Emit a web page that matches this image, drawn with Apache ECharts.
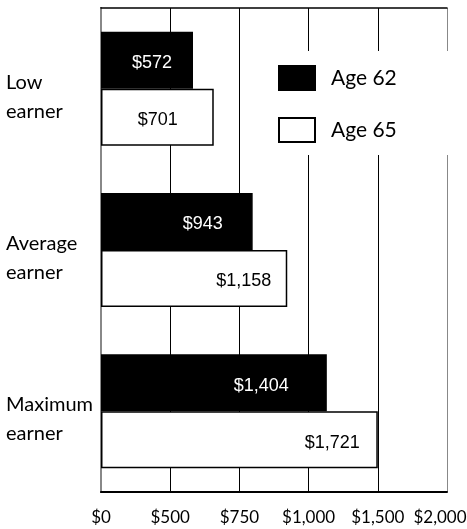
<!DOCTYPE html>
<html>
<head>
<meta charset="utf-8">
<script src="https://cdn.jsdelivr.net/npm/echarts@6/dist/echarts.min.js"></script>
<style>
  html, body { margin: 0; padding: 0; background: #fff; }
  #chart { width: 467px; height: 529px; }
</style>
</head>
<body>
<div id="chart"></div>
<script>
const categories = ['Low earner', 'Average earner', 'Maximum earner'];
const age62 = [572, 943, 1404];
const age65 = [701, 1158, 1721];
const tickLabels = ['$0', '$500', '$750', '$1,000', '$1,500', '$2,000'];

// gridlines are evenly spaced; the 4th one sits where the $1,721 bar ends
const step = 430.25;
const axisMax = step * 5;

// how far each value label sits in from the end of its bar
const inset62 = [21, 30, 38];
const inset65 = [36, 16, 18];

const chart = echarts.init(document.getElementById('chart'));

function money(v) {
  return '$' + v.toLocaleString('en-US');
}

function barData(values, inset) {
  return values.map((v, i) => ({ value: v, label: { distance: inset[i] } }));
}

function tickLabel(v) {
  const i = Math.round(v / step);
  // last label is pulled in so it stays on the page
  return i === tickLabels.length - 1 ? '{last|' + tickLabels[i] + '}' : tickLabels[i];
}

chart.setOption({
  animation: false,
  backgroundColor: '#fff',
  grid: { left: 101, right: 20, top: 8, bottom: 37, outerBoundsMode: 'none' },
  legend: {
    orient: 'vertical',
    left: 260,
    top: 51,
    padding: [14, 52, 12, 18],
    backgroundColor: '#fff',
    itemWidth: 36,
    itemHeight: 24,
    itemGap: 26,
    icon: 'rect',
    textStyle: { fontFamily: 'Lato', fontSize: 21, color: '#000', padding: [0, 0, 0, 11] },
    data: ['Age 62', 'Age 65']
  },
  xAxis: [
    {
      type: 'value',
      min: 0,
      max: axisMax,
      interval: step,
      axisLine: { show: true, lineStyle: { color: '#000', width: 2 } },
      axisTick: { show: false },
      splitLine: { show: true, lineStyle: { color: ['#000', '#000', '#000', '#000', '#000', '#888'], width: 1 } },
      axisLabel: {
        margin: 17,
        fontFamily: 'Lato',
        fontSize: 17,
        color: '#000',
        formatter: tickLabel,
        rich: {
          last: { fontFamily: 'Lato', fontSize: 17, color: '#000', padding: [0, 14, 0, 0] }
        }
      }
    },
    {
      type: 'value',
      position: 'top',
      min: 0,
      max: axisMax,
      interval: step,
      axisLine: { show: true, lineStyle: { color: '#000', width: 1.5 } },
      axisTick: { show: false },
      axisLabel: { show: false },
      splitLine: { show: false }
    }
  ],
  yAxis: [
    {
      type: 'category',
      inverse: true,
      data: categories,
      axisLine: { show: true, lineStyle: { color: '#000', width: 2 } },
      axisTick: { show: false },
      axisLabel: {
        align: 'left',
        margin: 95,
        color: '#000',
        // a blank first line nudges each two-line label down a little
        formatter: v => '{gap| }\n{t|' + v.replace(' ', '}\n{t|') + '}',
        rich: {
          gap: { fontSize: 10, lineHeight: 16 },
          t: { fontFamily: 'Lato', fontSize: 20, lineHeight: 29, color: '#000' }
        }
      }
    },
    {
      type: 'category',
      position: 'right',
      inverse: true,
      data: categories,
      axisLine: { show: true, lineStyle: { color: '#888', width: 2 } },
      axisTick: { show: false },
      axisLabel: { show: false }
    }
  ],
  series: [
    {
      name: 'Age 62',
      type: 'bar',
      barWidth: 57,
      barGap: '0%',
      data: barData(age62, inset62),
      itemStyle: { color: '#000', borderColor: '#000', borderWidth: 1.5 },
      label: {
        show: true,
        position: 'insideRight',
        offset: [0, 3],
        color: '#fff',
        fontFamily: 'Liberation Sans',
        fontWeight: 'normal',
        fontSize: 18,
        formatter: p => money(p.value)
      }
    },
    {
      name: 'Age 65',
      type: 'bar',
      barWidth: 57,
      barGap: '0%',
      data: barData(age65, inset65),
      itemStyle: { color: '#fff', borderColor: '#000', borderWidth: 1.5 },
      label: {
        show: true,
        position: 'insideRight',
        offset: [0, 3],
        color: '#000',
        fontFamily: 'Liberation Sans',
        fontWeight: 'normal',
        fontSize: 18,
        formatter: p => money(p.value)
      }
    }
  ]
});

window.addEventListener('resize', () => chart.resize());
</script>
</body>
</html>
